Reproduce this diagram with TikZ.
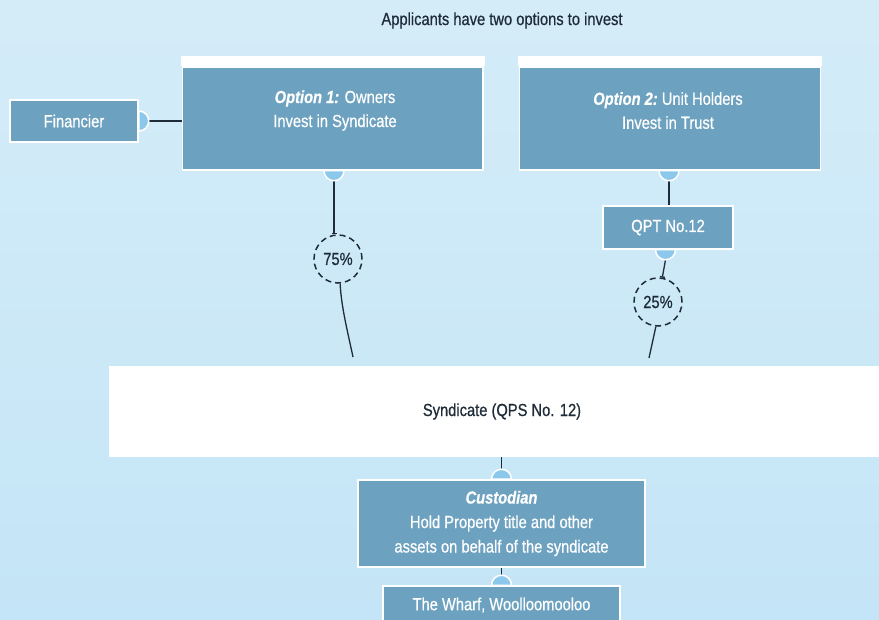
\documentclass[tikz,border=0pt]{standalone}
\usepackage{fontspec}
\setmainfont{Liberation Sans}[FakeStretch=0.84, FakeBold=0.6]
\usetikzlibrary{arrows.meta}
\definecolor{bgtop}{HTML}{D4ECF8}
\definecolor{bgbot}{HTML}{C4E5F7}
\definecolor{boxblue}{HTML}{6CA1BF}
\definecolor{semicol}{HTML}{8CC8EC}
\definecolor{ink}{HTML}{1E2B38}
\begin{document}
\begin{tikzpicture}[x=1pt,y=-1pt,
  bluebox/.style={draw=white, line width=1.5pt, fill=boxblue, text=white, inner sep=0pt,
    font=\fontsize{17.5}{24}\selectfont, align=center},
  plaintext/.style={inner sep=0pt, align=center, font=\fontsize{17.5}{24}\selectfont},
  conn/.style={draw=ink, line width=1.3pt},
  pct/.style={circle, draw=ink, dash pattern=on 6pt off 4pt, line width=1.5pt,
    minimum size=48pt, inner sep=0pt, text=ink, font=\fontsize{17.5}{20}\selectfont},
  halfdisc/.style={fill=semicol, draw=white, line width=1.5pt},
  tick/.style={-{Bar[width=5pt]}}]

\useasboundingbox (0,0) rectangle (879,620);
\shade[top color=bgtop, bottom color=bgbot] (0,0) rectangle (879,620);
\clip (0,0) rectangle (879,620);

% title
\node[plaintext, text=ink] (title) at (502,20.5) {Applicants have two options to invest};

% option boxes
\node[bluebox, minimum width=300.5pt, minimum height=103pt] (opt1) at (332.75,118.5) {};
\fill[white] ([xshift=-0.75pt]opt1.north west) rectangle ([xshift=0.75pt,yshift=10pt]opt1.north east);
\node[plaintext, text=white] (opt1t) at (335,110.5) {\textbf{\textit{Option 1:}} Owners\\Invest in Syndicate};

\node[bluebox, minimum width=301pt, minimum height=103pt] (opt2) at (670,118.5) {};
\fill[white] ([xshift=-0.75pt]opt2.north west) rectangle ([xshift=0.75pt,yshift=10pt]opt2.north east);
\node[plaintext, text=white] (opt2t) at (668,110.5) {\textbf{\textit{Option 2:}}\ Unit Holders\\Invest in Trust};

% other boxes
\node[bluebox, minimum width=128pt, minimum height=42pt] (fin) at (74,121) {Financier};
\node[bluebox, minimum width=130pt, minimum height=43pt] (qpt) at (668,227.5) {QPT No.12};
\node[fill=white, minimum width=786pt, minimum height=91pt, inner sep=0pt, text=ink,
  font=\fontsize{17.5}{20}\selectfont] (synd) at (502,411.5) {Syndicate (QPS No. 12)};
\node[bluebox, minimum width=287pt, minimum height=87pt, font=\fontsize{17.5}{24.5}\selectfont]
  (cust) at (501.5,523.5) {\textbf{\textit{Custodian}}\\Hold Property title and other\\assets on behalf of the syndicate};
\node[bluebox, minimum width=237pt, minimum height=38pt] (wharf) at (501.5,605) {The Wharf, Woolloomooloo};

% percentage circles
\node[pct] (c75) at (338,259) {75\%};
\node[pct] (c25) at (658,302) {25\%};

% anchor points for half discs
\coordinate (hf) at (fin.east);
\coordinate (h1) at ([xshift=1.25pt]opt1.south);
\coordinate (h2) at ([xshift=-1pt]opt2.south);
\coordinate (h3) at ([xshift=-2.5pt]qpt.south);
\coordinate (h4) at (cust.north);
\coordinate (h5) at (wharf.north);
\coordinate (s1) at (353,357);
\coordinate (s2) at (649,358);

% connectors
\draw[conn] ([xshift=10pt]hf) -- (hf -| opt1.west);
\draw[conn, tick] ([yshift=-10pt]h1) -- (h1 |- c75.north);
\draw[conn] (c75.-85) .. controls +(1,22) and +(-6,-28) .. (s1);
\draw[conn] ([yshift=-10pt]h2) -- (h2 |- qpt.north);
\draw[conn, tick] ([yshift=-10pt]h3) -- (c25.80);
\draw[conn] (c25.265) -- (s2);
\draw[conn] (synd.south -| h4) -- ([yshift=10pt]h4);
\draw[conn] (cust.south -| h5) -- ([yshift=10pt]h5);

% half discs
\filldraw[halfdisc] ([yshift=10pt]hf) arc[start angle=90, end angle=-90, radius=10pt] -- cycle;
\filldraw[halfdisc] ([xshift=-10pt]h1) arc[start angle=180, end angle=360, radius=10pt] -- cycle;
\filldraw[halfdisc] ([xshift=-10pt]h2) arc[start angle=180, end angle=360, radius=10pt] -- cycle;
\filldraw[halfdisc] ([xshift=-10pt]h3) arc[start angle=180, end angle=360, radius=10pt] -- cycle;
\filldraw[halfdisc] ([xshift=-10pt]h4) arc[start angle=180, end angle=0, radius=10pt] -- cycle;
\filldraw[halfdisc] ([xshift=-10pt]h5) arc[start angle=180, end angle=0, radius=10pt] -- cycle;
\end{tikzpicture}
\end{document}
